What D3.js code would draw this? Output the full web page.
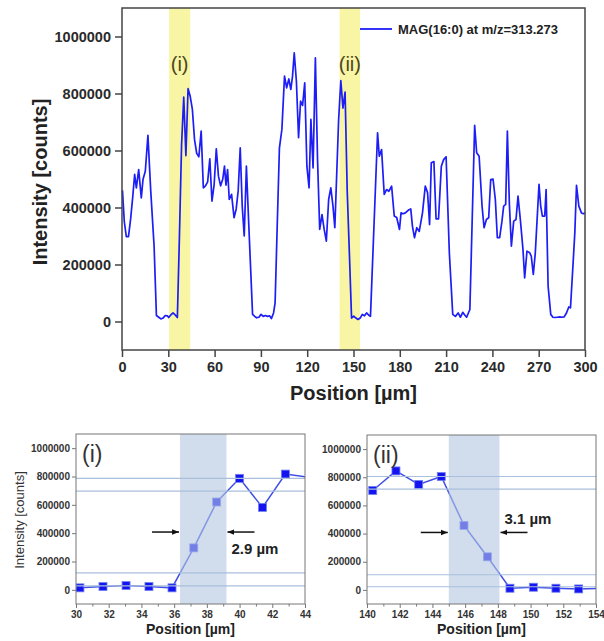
<!DOCTYPE html>
<html>
<head>
<meta charset="utf-8">
<script src="https://cdn.jsdelivr.net/npm/d3@7"></script>
<style>
  body { margin: 0; background: #fff; }
  text { font-family: "Liberation Sans", Arial, sans-serif; }
</style>
</head>
<body>
<svg id="chart" width="604" height="641"></svg>
<script>
// line scan, position in um / intensity in counts
const positions = [0.3, 1.5, 2.8, 4.2, 5.6, 7.0, 8.2, 9.3, 10.8, 12.5, 13.6, 15.1, 16.8, 18.6, 20.8, 22.3, 23.8, 25.2, 26.6, 28.0, 29.4,
  30.24, 31.65, 33.06, 34.46, 35.87, 37.2, 38.6, 40.0, 41.4, 42.8, 44.2,
  45.6, 47.0, 48.4, 49.8, 51.3, 52.7, 54.1, 55.5, 56.9, 58.3, 59.7, 61.1, 62.5, 63.9, 65.3, 66.4, 67.4, 68.4, 69.5, 71.0, 72.6, 74.0, 75.3, 76.6, 77.9, 79.2, 80.6, 82.0, 84.6,
  86.0, 87.2, 88.7, 90.1, 91.5, 92.9, 94.3, 95.6, 96.8, 98.2, 99.2, 100.6, 102.0, 103.6, 105.3, 106.7, 108.1, 109.4, 110.5, 111.6, 113.0, 114.4, 115.7, 117.0, 118.4,
  119.8, 121.2, 122.4, 123.8, 125.3, 126.7, 128.1, 129.6, 131.0, 132.4, 133.9, 135.3, 136.7, 137.9,
  140.35, 141.77, 143.16, 144.54, 145.93, 147.36, 148.74, 150.17, 151.55, 152.94, 154.33,
  155.7, 157.1, 158.5, 159.9, 161.0, 165.6, 166.7, 168.2, 169.9, 171.4, 172.9, 174.7, 176.4, 178.0, 179.8, 180.8, 182.2, 183.6, 185.6, 187.1, 188.2, 189.5, 191.0, 192.6, 194.7,
  196.5, 198.0, 199.3, 200.4, 202.1, 203.5, 205.1, 206.9, 208.4, 210.0, 212.1, 214.3, 216.0, 217.8, 219.3, 220.8, 222.2, 223.3, 225.4,
  228.5, 229.8, 231.4, 233.3, 234.6, 236.1, 237.6, 238.9, 240.4, 241.9, 243.2, 244.7, 246.2, 247.3, 248.6, 249.7, 251.0, 252.3, 253.8, 255.3, 256.6, 258.1, 259.8,
  260.9, 262.4, 264.2, 265.2, 266.5, 267.8, 270.2, 271.3, 272.4, 273.9, 274.8, 276.1, 277.8, 279.2, 280.6, 282.0, 283.7, 285.1, 286.5, 288.0, 289.5, 290.6,
  292.3, 293.4, 294.5, 296.0, 297.7, 299.0, 300.0]
const intensities = [460000, 350000, 298000, 298000, 360000, 440000, 516000, 469000, 533000, 434000, 498000, 527000, 653000, 460000, 264000, 21000, 15000, 9000, 12000, 21000, 20000,
  14000, 23000, 30000, 23000, 14000, 296000, 620000, 787000, 582000, 817000, 790000,
  744000, 638000, 590000, 578000, 668000, 469000, 476000, 490000, 571000, 422000, 480000, 606000, 510000, 476000, 500000, 545000, 478000, 533000, 428000, 446000, 364000, 395000, 460000, 609000, 405000, 300000, 545000, 358000, 25000,
  18000, 13000, 15000, 25000, 18000, 21000, 18000, 20000, 10000, 30000, 65000, 340000, 609000, 674000, 861000, 820000, 851000, 814000, 861000, 943000, 843000, 645000, 773000, 758000, 837000,
  545000, 469000, 709000, 539000, 925000, 568000, 323000, 375000, 323000, 282000, 428000, 469000, 405000, 329000,
  706000, 845000, 749000, 805000, 458000, 235000, 12000, 19000, 12000, 7000, 12000,
  25000, 20000, 30000, 22000, 18000, 662000, 580000, 603000, 446000, 463000, 457000, 475000, 370000, 365000, 323000, 381000, 378000, 381000, 391000, 395000, 334000, 294000, 329000, 316000, 381000,
  475000, 452000, 340000, 557000, 561000, 360000, 360000, 545000, 568000, 578000, 241000, 25000, 18000, 30000, 15000, 32000, 22000, 15000, 42000,
  688000, 592000, 580000, 405000, 329000, 358000, 364000, 498000, 500000, 428000, 294000, 294000, 352000, 405000, 411000, 668000, 411000, 264000, 352000, 358000, 440000, 358000, 253000,
  153000, 247000, 241000, 229000, 165000, 241000, 481000, 405000, 370000, 370000, 463000, 124000, 25000, 15000, 14000, 15000, 16000, 15000, 16000, 30000, 51000, 48000,
  206000, 311000, 478000, 405000, 381000, 378000, 381000]

const seriesName = 'MAG(16:0) at m/z=313.273'
const bandLabels = ['(i)', '(ii)']
const bandStarts = [30.5, 141]
const bandEnds = [44.2, 154.3]
const xTicks = d3.range(0, 301, 30)
const yTicks = [0, 200000, 400000, 600000, 800000, 1000000]

// zoomed edges
const posI = [30.24, 31.65, 33.06, 34.46, 35.87, 37.2, 38.6, 40.0, 41.4, 42.8, 44.2]
const intI = [14000, 23000, 30000, 23000, 14000, 296000, 620000, 787000, 582000, 817000, 795000]
const levelsI = [787000, 697000, 120000, 28000]
const edgeI = [36.36, 39.2]
const widthI = '2.9 µm'

const posII = [140.35, 141.77, 143.16, 144.54, 145.93, 147.36, 148.74, 150.17, 151.55, 152.94, 154.33]
const intII = [706000, 845000, 749000, 805000, 458000, 235000, 12000, 19000, 12000, 7000, 12000]
const levelsII = [805000, 716000, 108000, 23000]
const edgeII = [145.0, 148.1]
const widthII = '3.1 µm'

const svg = d3.select('#chart')
const fmt = d3.format('d')

svg.append('defs').append('marker')
    .attr('id', 'arr')
    .attr('viewBox', '0 0 10 10')
    .attr('refX', 10).attr('refY', 5)
    .attr('markerWidth', 7).attr('markerHeight', 7)
    .attr('markerUnits', 'userSpaceOnUse')
    .attr('orient', 'auto')
  .append('path')
    .attr('d', 'M0,1 L10,5 L0,9 Z')
    .attr('fill', '#111')

// ---- main panel
const m = { left: 122, right: 585, top: 8, bottom: 350 }
const x = d3.scaleLinear().domain([0, 300]).range([m.left, m.right])
const y = d3.scaleLinear().domain([-100000, 1100000]).range([m.bottom, m.top])

const main = svg.append('g')

main.selectAll('rect.band').data(bandStarts)
  .enter().append('rect')
    .attr('x', d => x(d))
    .attr('width', (d, i) => x(bandEnds[i]) - x(d))
    .attr('y', m.top)
    .attr('height', m.bottom - m.top)
    .attr('fill', '#f8f6a4')

main.selectAll('text.blab').data(bandLabels)
  .enter().append('text')
    .attr('x', (d, i) => x((bandStarts[i] + bandEnds[i]) / 2))
    .attr('y', y(880000))
    .attr('text-anchor', 'middle')
    .attr('font-size', 20)
    .attr('fill', '#4d4622')
    .text(d => d)

const line = d3.line().x(d => x(d[0])).y(d => y(d[1]))
main.append('path')
    .datum(d3.zip(positions, intensities))
    .attr('d', line)
    .attr('fill', 'none')
    .attr('stroke', '#1d1df5')
    .attr('stroke-width', 1.7)
    .attr('stroke-linejoin', 'round')

main.append('rect')
    .attr('x', m.left).attr('y', m.top)
    .attr('width', m.right - m.left).attr('height', m.bottom - m.top)
    .attr('fill', 'none').attr('stroke', '#444').attr('stroke-width', 1.5)

const gx = main.append('g')
    .attr('transform', `translate(0,${m.bottom})`)
    .call(d3.axisBottom(x).tickValues(xTicks).tickSize(7).tickPadding(5))
const gy = main.append('g')
    .attr('transform', `translate(${m.left},0)`)
    .call(d3.axisLeft(y).tickValues(yTicks).tickFormat(fmt).tickSize(7).tickPadding(4))
;[gx, gy].forEach(g => {
  g.select('.domain').remove()
  g.selectAll('line').attr('stroke', '#444').attr('stroke-width', 1.5)
  g.selectAll('text').attr('font-size', 14.5).attr('font-weight', 'bold')
      .attr('fill', '#2a2a2a').style('font-family', '"Liberation Sans", Arial, sans-serif')
})

main.append('text')
    .attr('x', (m.left + m.right) / 2).attr('y', 400)
    .attr('text-anchor', 'middle')
    .attr('font-size', 20).attr('font-weight', 'bold').attr('fill', '#222')
    .text('Position [µm]')
main.append('text')
    .attr('transform', `translate(47,${(m.top + m.bottom) / 2 + 3}) rotate(-90)`)
    .attr('text-anchor', 'middle')
    .attr('font-size', 20).attr('font-weight', 'bold').attr('fill', '#222')
    .text('Intensity [counts]')

main.append('line')
    .attr('x1', 360).attr('x2', 392).attr('y1', 29).attr('y2', 29)
    .attr('stroke', '#1d1df5').attr('stroke-width', 1.8)
main.append('text')
    .attr('x', 398).attr('y', 34)
    .attr('font-size', 13).attr('font-weight', 'bold').attr('fill', '#222')
    .text(seriesName)

// ---- zoom panels
function panel(box, domain, px, py, levels, edge, label, widthText, textAt, clipId) {
  const sx = d3.scaleLinear().domain(domain).range([box.left, box.right])
  const sy = d3.scaleLinear().domain([-100000, 1100000]).range([box.bottom, box.top])
  const g = svg.append('g')

  g.append('clipPath').attr('id', clipId).append('rect')
      .attr('x', box.left).attr('y', box.top)
      .attr('width', box.right - box.left).attr('height', box.bottom - box.top)

  const inner = g.append('g').attr('clip-path', `url(#${clipId})`)
  const pts = d3.zip(px, py)

  inner.append('path')
      .datum(pts)
      .attr('d', d3.line().x(d => sx(d[0])).y(d => sy(d[1])))
      .attr('fill', 'none').attr('stroke', '#3f4fe6').attr('stroke-width', 1.5)

  inner.selectAll('rect.pt').data(pts.filter(d => d[0] <= domain[1]))
    .enter().append('rect')
      .attr('x', d => sx(d[0]) - 4).attr('y', d => sy(d[1]) - 4)
      .attr('width', 8).attr('height', 8)
      .attr('fill', '#1414f0').attr('stroke', '#7080f0').attr('stroke-width', 0.8)

  // transition region, drawn over the data
  inner.append('rect')
      .attr('x', sx(edge[0])).attr('width', sx(edge[1]) - sx(edge[0]))
      .attr('y', box.top).attr('height', box.bottom - box.top)
      .attr('fill', '#b2c6e0').attr('opacity', 0.6)

  inner.selectAll('line.lvl').data(levels)
    .enter().append('line')
      .attr('x1', box.left).attr('x2', box.right)
      .attr('y1', d => sy(d)).attr('y2', d => sy(d))
      .attr('stroke', '#a9bfdc').attr('stroke-width', 1.1)

  const ay = sy(408000)
  g.append('line')
      .attr('x1', sx(edge[0]) - 28).attr('x2', sx(edge[0]) - 1)
      .attr('y1', ay).attr('y2', ay)
      .attr('stroke', '#111').attr('stroke-width', 1.5).attr('marker-end', 'url(#arr)')
  g.append('line')
      .attr('x1', sx(edge[1]) + 28).attr('x2', sx(edge[1]) + 1)
      .attr('y1', ay).attr('y2', ay)
      .attr('stroke', '#111').attr('stroke-width', 1.5).attr('marker-end', 'url(#arr)')

  g.append('text')
      .attr('x', sx(textAt[0])).attr('y', sy(textAt[1]))
      .attr('font-size', 15).attr('font-weight', 'bold').attr('fill', '#222')
      .text(widthText)

  g.append('rect')
      .attr('x', box.left).attr('y', box.top)
      .attr('width', box.right - box.left).attr('height', box.bottom - box.top)
      .attr('fill', 'none').attr('stroke', '#777').attr('stroke-width', 1)

  g.append('text')
      .attr('x', box.left + 6).attr('y', box.top + 28)
      .attr('font-size', 23).attr('fill', '#333')
      .text(label)

  const ax = g.append('g')
      .attr('transform', `translate(0,${box.bottom})`)
      .call(d3.axisBottom(sx).tickValues(d3.range(domain[0], domain[1] + 1, 2)).tickSize(4).tickPadding(3))
  const axm = g.append('g')
      .attr('transform', `translate(0,${box.bottom})`)
      .call(d3.axisBottom(sx).tickValues(d3.range(domain[0] + 1, domain[1], 2)).tickFormat('').tickSize(2.5))
  const ayx = g.append('g')
      .attr('transform', `translate(${box.left},0)`)
      .call(d3.axisLeft(sy).tickValues(yTicks).tickFormat(fmt).tickSize(4).tickPadding(2))
  ;[ax, axm, ayx].forEach(a => {
    a.select('.domain').remove()
    a.selectAll('line').attr('stroke', '#777')
    a.selectAll('text').attr('font-size', 10).attr('font-weight', 'bold')
        .attr('fill', '#333').style('font-family', '"Liberation Sans", Arial, sans-serif')
  })

  g.append('text')
      .attr('x', (box.left + box.right) / 2).attr('y', 634)
      .attr('text-anchor', 'middle')
      .attr('font-size', 14).attr('font-weight', 'bold').attr('fill', '#222')
      .text('Position [µm]')
}

panel({ left: 76, right: 305, top: 434, bottom: 604 }, [30, 44], posI, intI, levelsI, edgeI,
  '(i)', widthI, [39.5, 255000], 'clipI')
panel({ left: 367, right: 596, top: 435, bottom: 604 }, [140, 154], posII, intII, levelsII, edgeII,
  '(ii)', widthII, [148.4, 465000], 'clipII')

svg.append('text')
    .attr('transform', 'translate(24,520) rotate(-90)')
    .attr('text-anchor', 'middle')
    .attr('font-size', 13).attr('fill', '#333')
    .text('Intensity [counts]')
</script>
</body>
</html>
